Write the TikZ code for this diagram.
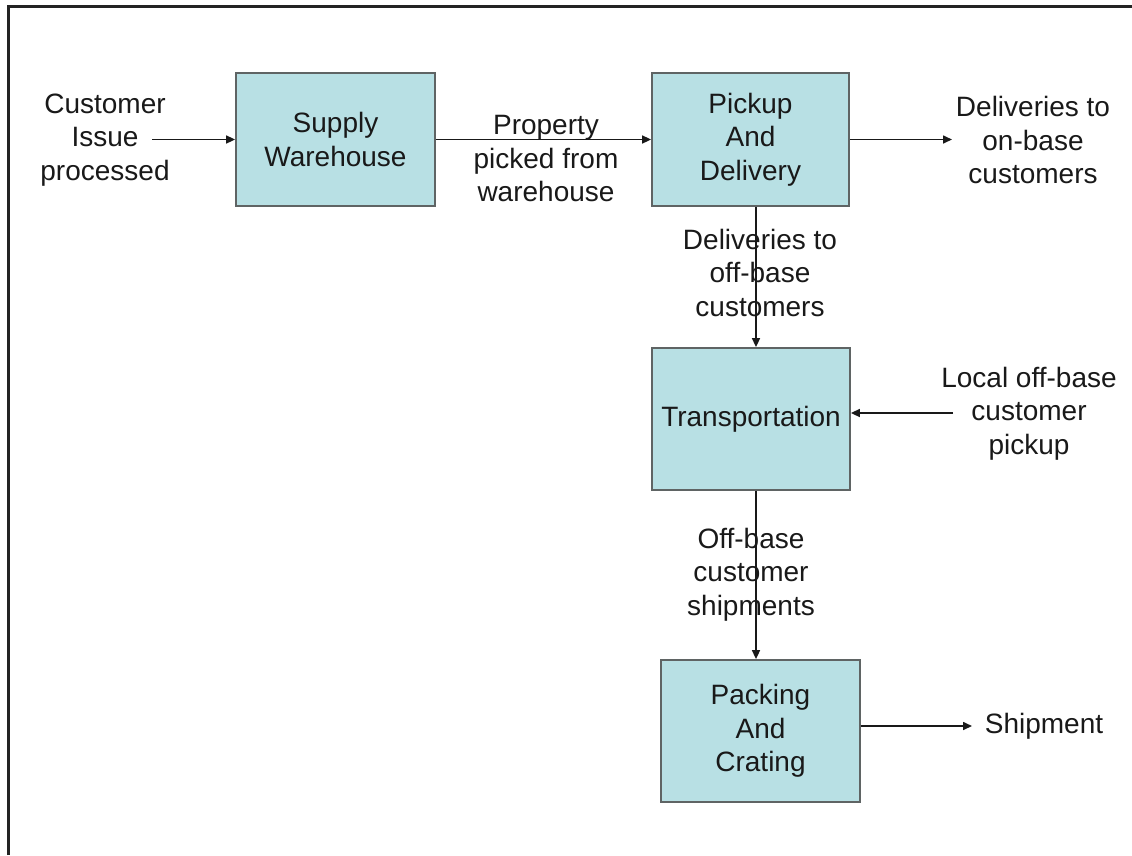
\documentclass[tikz,border=0pt]{standalone}
\usepackage{fontspec}
\setmainfont{Liberation Sans}
\usetikzlibrary{arrows.meta}
\definecolor{boxfill}{RGB}{184,224,228}
\definecolor{boxline}{RGB}{95,100,100}
\definecolor{ink}{RGB}{25,25,25}
\definecolor{framecol}{RGB}{35,35,35}
\begin{document}
\begin{tikzpicture}[x=1pt,y=-1pt,
  proc/.style={draw=boxline, fill=boxfill, line width=1.8pt, inner sep=0pt,
    align=center, text=ink, font=\fontsize{28}{33.5}\selectfont},
  lbl/.style={align=center, text=ink, inner sep=0pt, font=\fontsize{28}{33.5}\selectfont},
  flow/.style={draw=ink, line width=1.6pt, -{Triangle[length=9pt,width=8pt]}}]
\useasboundingbox (0,0) rectangle (1132,855);
% page frame (left and top edges only)
\draw[framecol, line width=2.4pt] (8.5,855) -- (8.5,6.5) -- (1132,6.5);

% process boxes
\node[proc, minimum width=199pt, minimum height=133pt] (sw) at (335.5,139.5) {Supply\\Warehouse};
\node[proc, minimum width=197pt, minimum height=133pt] (pd) at (750.5,139.5) {Pickup\\And\\Delivery};
\node[proc, minimum width=198pt, minimum height=142pt] (tr) at (751,419) {Transportation};
\node[proc, minimum width=199pt, minimum height=142pt] (pc) at (760.5,731) {Packing\\And\\Crating};

% free-standing labels
\node[lbl] (cil) at (105,140) {Customer\\Issue\\processed};
\node[lbl] (prl) at (546,158.5) {Property\\picked from\\warehouse};
\node[lbl] (onl) at (1033,140) {Deliveries to\\on-base\\customers};
\node[lbl] (ofl) at (760,272.5) {Deliveries to\\off-base\\customers};
\node[lbl] (lol) at (1029,413.5) {Local off-base\\customer\\pickup};
\node[lbl] (osl) at (751,574.5) {Off-base\\customer\\shipments};
\node[lbl] (shl) at (1044,726) {Shipment};

% loose ends of the flows
\coordinate (ciout) at (152,139.5);
\coordinate (onin) at (952,139.5);
\coordinate (loout) at (953,413);
\coordinate (shin) at (972,726);

% flows
\draw[flow] (ciout) -- (sw.west);
\draw[flow] (sw.east) -- (pd.west);
\draw[flow] (pd.east) -- (onin);
\draw[flow] ([xshift=5.5pt]pd.south) -- ([xshift=5pt]tr.north);
\draw[flow] (loout) -- (tr.east |- loout);
\draw[flow] ([xshift=5pt]tr.south) -- ([xshift=5pt]tr.south |- pc.north);
\draw[flow] (pc.east |- shin) -- (shin);
\end{tikzpicture}
\end{document}
